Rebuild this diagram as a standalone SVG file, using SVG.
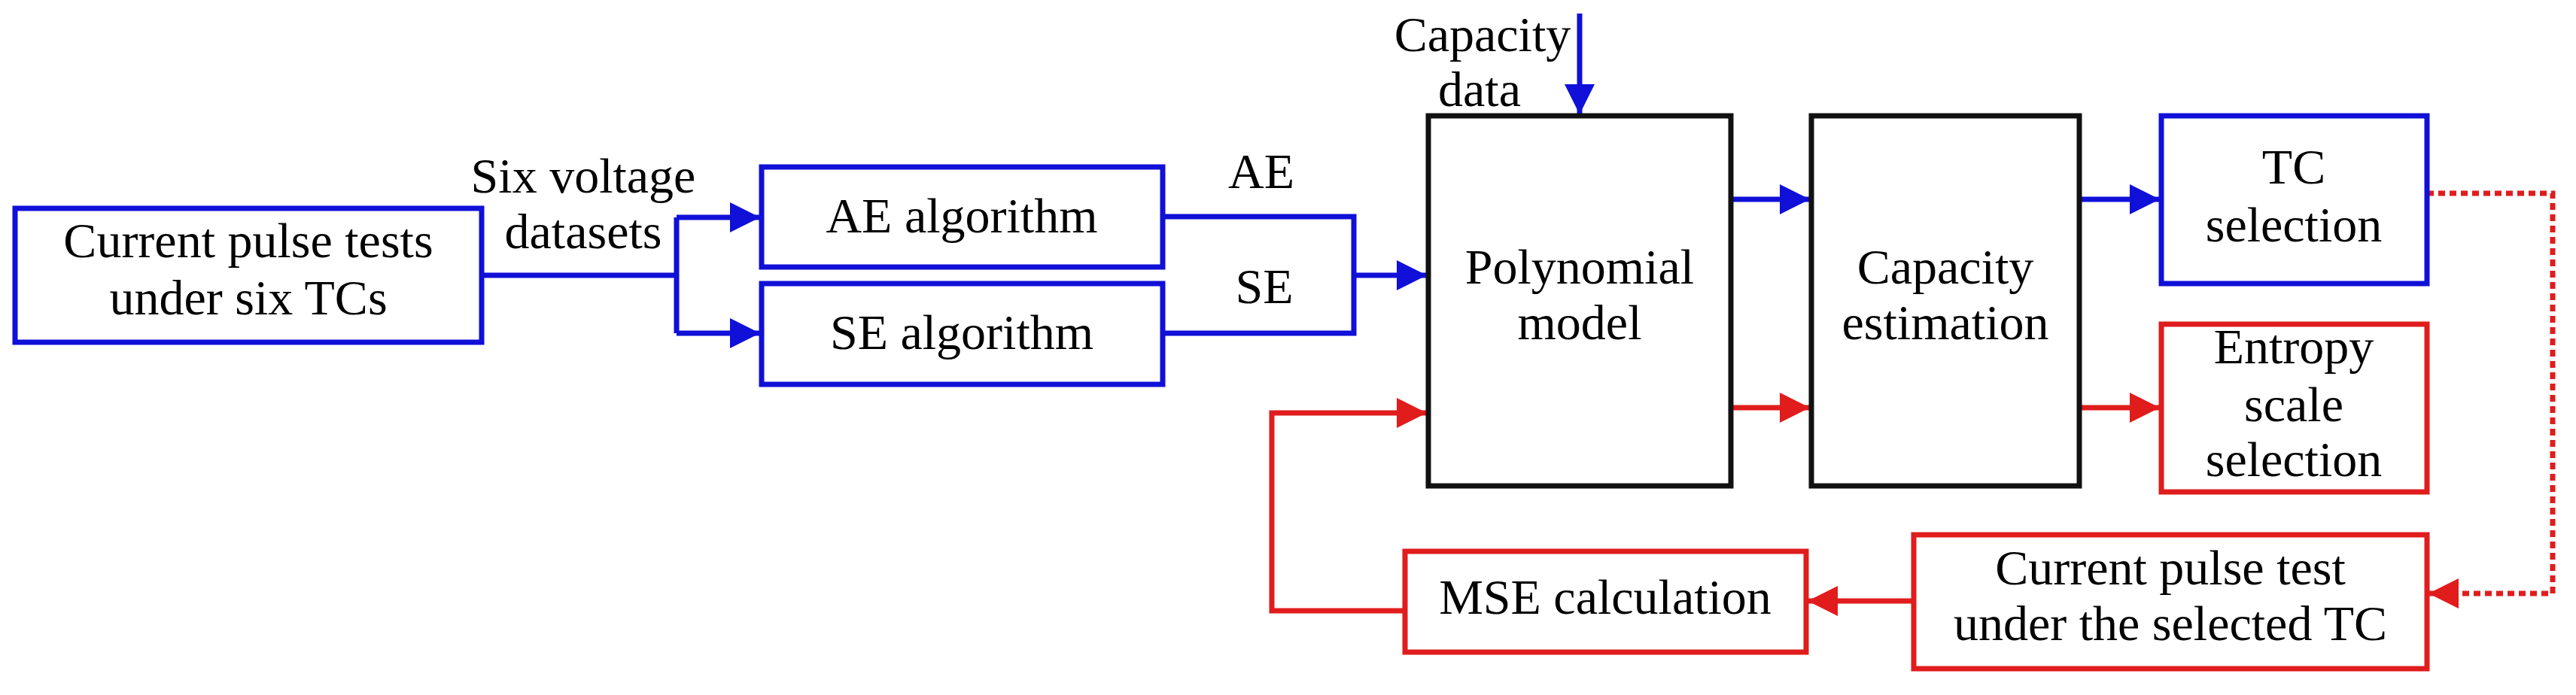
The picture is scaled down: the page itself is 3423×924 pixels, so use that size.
<svg xmlns="http://www.w3.org/2000/svg" width="3423" height="924" viewBox="0 0 3423 924">
<style>
text{font-family:"Liberation Serif","DejaVu Serif",serif;font-size:66px;fill:#000;text-anchor:middle}
.b{fill:none;stroke:#1010d8;stroke-width:7}
.r{fill:none;stroke:#e01c1c;stroke-width:7}
.k{fill:none;stroke:#111;stroke-width:7}
.bl{fill:none;stroke:#1010d8;stroke-width:7}
.rl{fill:none;stroke:#e01c1c;stroke-width:7}
.dot{stroke-dasharray:9 6}
</style>
<defs>
<marker id="ab" markerWidth="42" markerHeight="40" refX="40" refY="20" orient="auto" markerUnits="userSpaceOnUse"><path d="M0,0 L40,20 L0,40 z" fill="#1010d8"/></marker>
<marker id="ar" markerWidth="42" markerHeight="40" refX="40" refY="20" orient="auto" markerUnits="userSpaceOnUse"><path d="M0,0 L40,20 L0,40 z" fill="#e01c1c"/></marker>
</defs>
<g id="connectors">
<path class="bl" d="M640,366 H899 M899,289 V443"/>
<path class="bl" d="M899,289 H1010" marker-end="url(#ab)"/>
<path class="bl" d="M899,443 H1010" marker-end="url(#ab)"/>
<path class="bl" d="M1545,288 H1799 V443 H1545"/>
<path class="bl" d="M1799,366 H1896" marker-end="url(#ab)"/>
<path class="bl" d="M2099,18 V152" marker-end="url(#ab)"/>
<path class="bl" d="M2300,265 H2405" marker-end="url(#ab)"/>
<path class="bl" d="M2763,265 H2870" marker-end="url(#ab)"/>
<path class="rl" d="M2300,542 H2405" marker-end="url(#ar)"/>
<path class="rl" d="M2763,542 H2870" marker-end="url(#ar)"/>
<path class="rl" d="M1867,812 H1690 V549 H1896" marker-end="url(#ar)"/>
<path class="rl" d="M2543,799 H2402" marker-end="url(#ar)"/>
<path class="rl dot" d="M3225,257 H3392 V789 H3227" marker-end="url(#ar)"/>
</g>
<g id="n1"><rect class="b" x="20" y="277" width="620" height="178"/><text x="330" y="342">Current pulse tests</text><text x="330" y="418">under six TCs</text></g>
<g id="lblSix"><text x="775" y="256">Six voltage</text><text x="775" y="330">datasets</text></g>
<g id="n2"><rect class="b" x="1012" y="222" width="533" height="133"/><text x="1278" y="309">AE algorithm</text></g>
<g id="n3"><rect class="b" x="1012" y="377" width="533" height="134"/><text x="1278" y="464">SE algorithm</text></g>
<g id="lblAE"><text x="1676" y="250">AE</text></g>
<g id="lblSE"><text x="1680" y="403">SE</text></g>
<g id="lblCap"><text x="1970" y="68">Capacity</text><text x="1966" y="141">data</text></g>
<g id="n4"><rect class="k" x="1898" y="154" width="402" height="492"/><text x="2099" y="377">Polynomial</text><text x="2099" y="451">model</text></g>
<g id="n5"><rect class="k" x="2407" y="154" width="356" height="492"/><text x="2585" y="377">Capacity</text><text x="2585" y="451">estimation</text></g>
<g id="n6"><rect class="b" x="2872" y="154" width="353" height="223"/><text x="3048" y="244">TC</text><text x="3048" y="321">selection</text></g>
<g id="n7"><rect class="r" x="2872" y="431" width="353" height="223"/><text x="3048" y="483">Entropy</text><text x="3048" y="560">scale</text><text x="3048" y="633">selection</text></g>
<g id="n8"><rect class="r" x="2543" y="711" width="682" height="178"/><text x="2884" y="777">Current pulse test</text><text x="2884" y="851">under the selected TC</text></g>
<g id="n9"><rect class="r" x="1867" y="733" width="533" height="134"/><text x="2133" y="816">MSE calculation</text></g>
</svg>
